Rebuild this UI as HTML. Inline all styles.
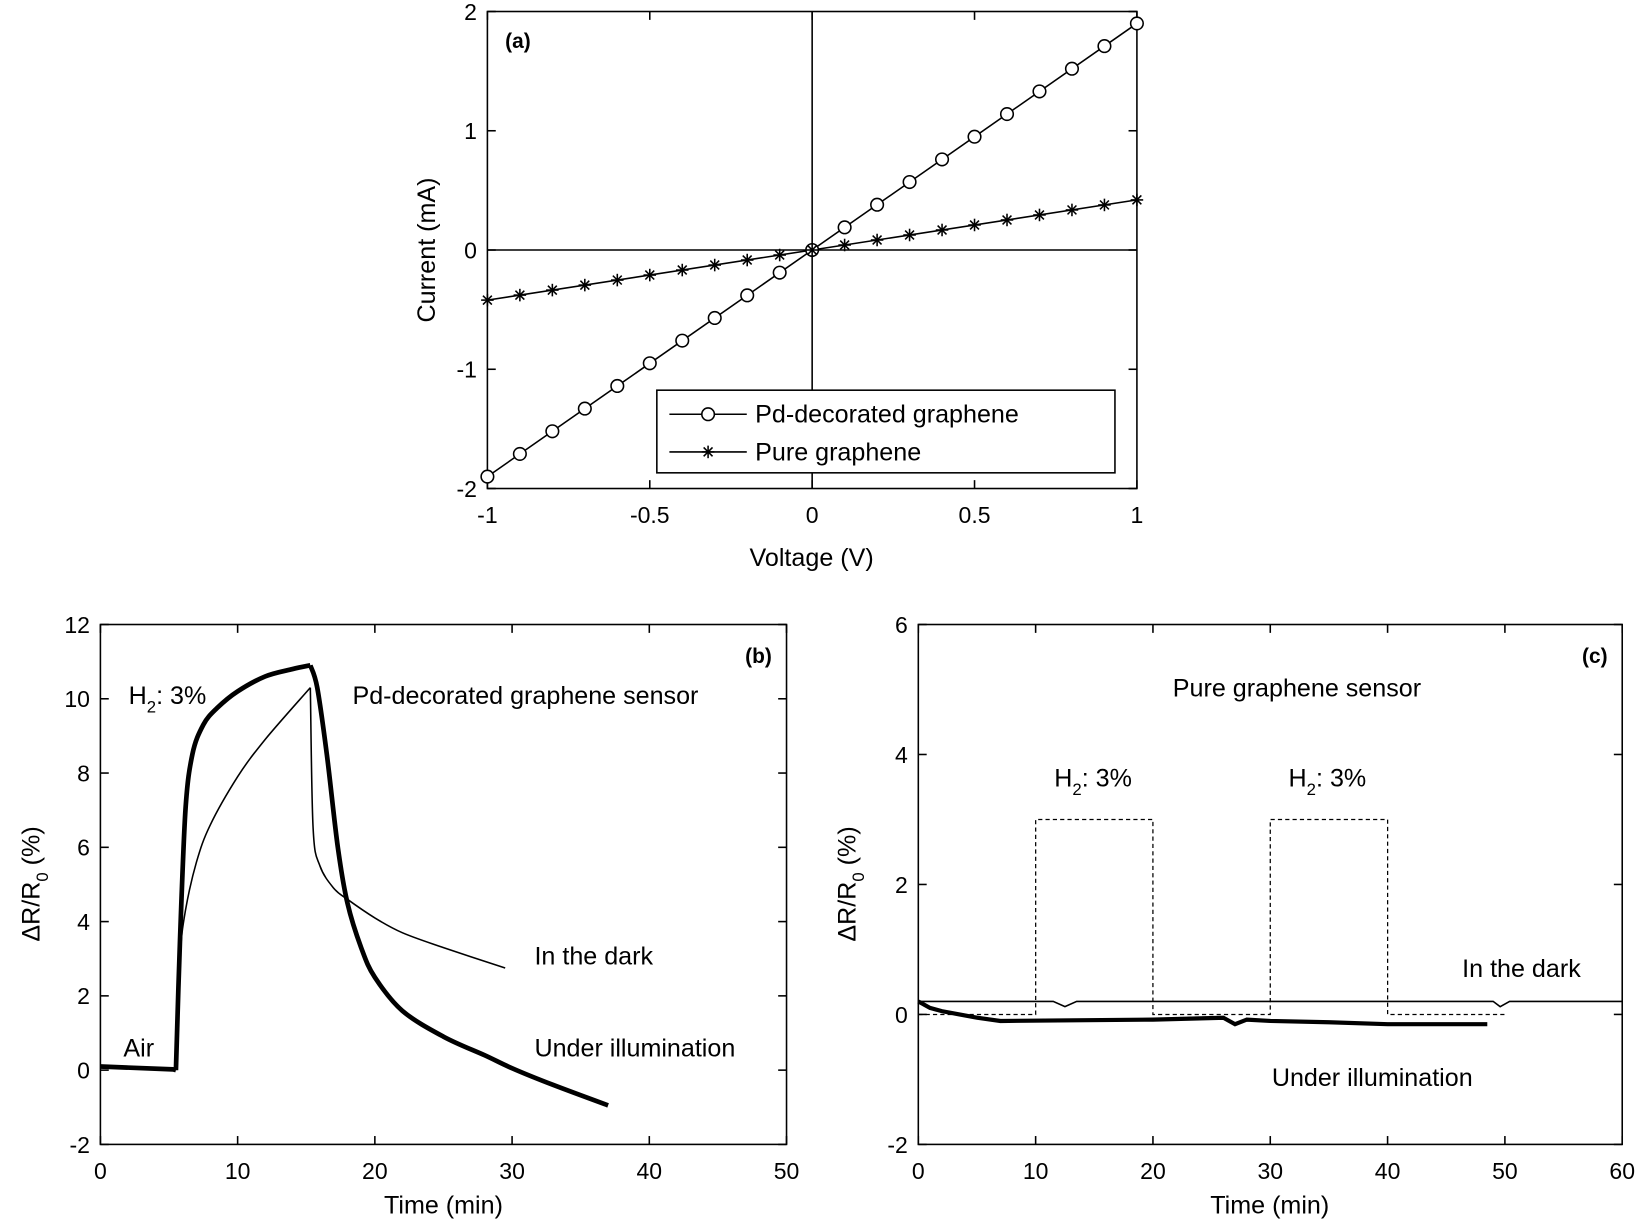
<!DOCTYPE html>
<html><head><meta charset="utf-8"><style>
html,body{margin:0;padding:0;background:#fff;}
svg{display:block;font-family:"Liberation Sans",sans-serif;}
</style></head><body>
<svg id="s" width="1640" height="1226" viewBox="0 0 1568 1172" preserveAspectRatio="none" xmlns="http://www.w3.org/2000/svg">
<rect width="1568" height="1172" fill="#fff"/>
<g id="g" fill="none" stroke="#000" stroke-width="1.5"></g>
<g id="t" font-size="22" fill="#000"></g>
</svg>
<script>
const NS="http://www.w3.org/2000/svg";
const G=document.getElementById('g'),T=document.getElementById('t');
function el(p,tag,a,txt){const e=document.createElementNS(NS,tag);for(const k in a)e.setAttribute(k,a[k]);if(txt!==undefined)e.innerHTML=txt;p.appendChild(e);return e;}
function line(x1,y1,x2,y2,a){el(G,'line',Object.assign({x1,y1,x2,y2},a||{}));}
function txt(x,y,s,a){el(T,'text',Object.assign({x,y},a||{}),s);}
function axes(L,R,Tp,B,xt,yt,xmin,xmax,ymin,ymax,tl){
 el(G,'rect',{x:L,y:Tp,width:R-L,height:B-Tp});
 const X=v=>L+(v-xmin)/(xmax-xmin)*(R-L),Y=v=>B-(v-ymin)/(ymax-ymin)*(B-Tp);
 xt.forEach(v=>{const x=X(v);line(x,B,x,B-tl);line(x,Tp,x,Tp+tl);txt(x,B+33,String(v),{'text-anchor':'middle'});});
 yt.forEach(v=>{const y=Y(v);line(L,y,L+tl,y);line(R,y,R-tl,y);txt(L-10,y+8,String(v),{'text-anchor':'end'});});
 return [X,Y];
}
function path(pts,X,Y,a){el(G,'path',Object.assign({d:'M'+pts.map(p=>X(p[0]).toFixed(1)+','+Y(p[1]).toFixed(1)).join('L')},a||{}));}
function spline(pts,X,Y,a){
 const P=pts.map(p=>[X(p[0]),Y(p[1])]);let d='M'+P[0][0].toFixed(1)+','+P[0][1].toFixed(1);
 for(let i=0;i<P.length-1;i++){const p0=P[Math.max(i-1,0)],p1=P[i],p2=P[i+1],p3=P[Math.min(i+2,P.length-1)];
  const c1=[p1[0]+(p2[0]-p0[0])/6,p1[1]+(p2[1]-p0[1])/6],c2=[p2[0]-(p3[0]-p1[0])/6,p2[1]-(p3[1]-p1[1])/6];
  d+='C'+c1.map(v=>v.toFixed(1))+' '+c2.map(v=>v.toFixed(1))+' '+p2.map(v=>v.toFixed(1));}
 el(G,'path',Object.assign({d},a||{}));}
// (a)
let [X,Y]=axes(466,1087,11,467,[-1,-0.5,0,0.5,1],[-2,-1,0,1,2],-1,1,-2,2,8);
line(X(0),11,X(0),467);line(466,Y(0),1087,Y(0));
path([[-1,-1.9],[1,1.9]],X,Y);path([[-1,-0.42],[1,0.42]],X,Y);
function star(x,y){for(let a=0;a<4;a++){const r=6,an=a*Math.PI/4;line(x-r*Math.cos(an),y-r*Math.sin(an),x+r*Math.cos(an),y+r*Math.sin(an));}}
for(let i=-10;i<=10;i++){const v=i/10;el(G,'circle',{cx:X(v),cy:Y(1.9*v),r:6,fill:'#fff'});star(X(v),Y(0.42*v));}
el(G,'rect',{x:628,y:373,width:438,height:79,fill:'#fff'});
line(640,396,714,396);el(G,'circle',{cx:677,cy:396,r:6,fill:'#fff'});
line(640,432,714,432);star(677,432);
txt(722,404,'Pd-decorated graphene',{'font-size':24});txt(722,440,'Pure graphene',{'font-size':24});
txt(483,46,'(a)',{'font-weight':'bold','font-size':20});
txt(776,541,'Voltage (V)',{'text-anchor':'middle','font-size':24});
txt(0,0,'Current (mA)',{'text-anchor':'middle','font-size':24,transform:'translate(416,239) rotate(-90)'});
// (b)
[X,Y]=axes(96,752,597,1094,[0,10,20,30,40,50],[-2,0,2,4,6,8,10,12],0,50,-2,12,8);
const tw={'stroke-width':4.5,'stroke-linejoin':'round'};
path([[0,0.1],[5.3,0.02],[5.5,0]],X,Y,tw);
spline([[5.5,0],[5.8,3.5],[6.2,7],[6.7,8.5],[7.5,9.3],[8.5,9.75],[10,10.2],[12,10.6],[14,10.8],[15.3,10.9]],X,Y,tw);
spline([[15.3,10.9],[15.8,10.3],[16.5,8.5],[17.3,6],[18,4.5],[19,3.3],[20,2.5],[22,1.6],[25,0.9],[28,0.4],[30,0.05],[33,-0.4],[37,-0.95]],X,Y,tw);
spline([[5.5,0],[5.8,3],[6.2,4.3],[7,5.6],[8,6.6],[10,7.9],[12,8.9],[15.3,10.3]],X,Y);
spline([[15.3,10.3],[15.5,6.5],[16,5.5],[17,4.9],[18,4.6],[20,4.1],[22,3.7],[25,3.3],[29.5,2.75]],X,Y);
txt(738,634,'(b)',{'font-weight':'bold','font-size':20,'text-anchor':'end'});
txt(123,673,'H<tspan font-size="16" dy="8">2</tspan><tspan dy="-8">: 3%</tspan>',{'font-size':24});
txt(337,673,'Pd-decorated graphene sensor',{'font-size':24});
txt(511,922,'In the dark',{'font-size':24});
txt(511,1010,'Under illumination',{'font-size':24});
txt(118,1010,'Air',{'font-size':24});
txt(424,1160,'Time (min)',{'text-anchor':'middle','font-size':24});
txt(0,0,'ΔR/R<tspan font-size="16" dy="8">0</tspan><tspan dy="-8"> (%)</tspan>',{'text-anchor':'middle','font-size':24,transform:'translate(38,845) rotate(-90)'});
// (c)
[X,Y]=axes(878,1551,597,1094,[0,10,20,30,40,50,60],[-2,0,2,4,6],0,60,-2,6,8);
path([[0,0],[10,0],[10,3],[20,3],[20,0],[30,0],[30,3],[40,3],[40,0],[50,0]],X,Y,{'stroke-dasharray':'4,3','stroke-width':1.2});
path([[0,0.2],[11.5,0.2],[12.5,0.12],[13.5,0.2],[49,0.2],[49.6,0.12],[50.4,0.2],[60,0.2]],X,Y);
path([[0,0.2],[1,0.1],[2,0.05],[3.5,0],[5,-0.05],[7,-0.1],[20,-0.08],[26,-0.05],[27,-0.15],[28,-0.08],[30,-0.1],[35,-0.12],[40,-0.15],[48.5,-0.15]],X,Y,{'stroke-width':4});
txt(1537,634,'(c)',{'font-weight':'bold','font-size':20,'text-anchor':'end'});
txt(1240,666,'Pure graphene sensor',{'font-size':24,'text-anchor':'middle'});
txt(1008,752,'H<tspan font-size="16" dy="8">2</tspan><tspan dy="-8">: 3%</tspan>',{'font-size':24});
txt(1232,752,'H<tspan font-size="16" dy="8">2</tspan><tspan dy="-8">: 3%</tspan>',{'font-size':24});
txt(1398,934,'In the dark',{'font-size':24});
txt(1216,1038,'Under illumination',{'font-size':24});
txt(1214,1160,'Time (min)',{'text-anchor':'middle','font-size':24});
txt(0,0,'ΔR/R<tspan font-size="16" dy="8">0</tspan><tspan dy="-8"> (%)</tspan>',{'text-anchor':'middle','font-size':24,transform:'translate(818,845) rotate(-90)'});
</script>
</body></html>
